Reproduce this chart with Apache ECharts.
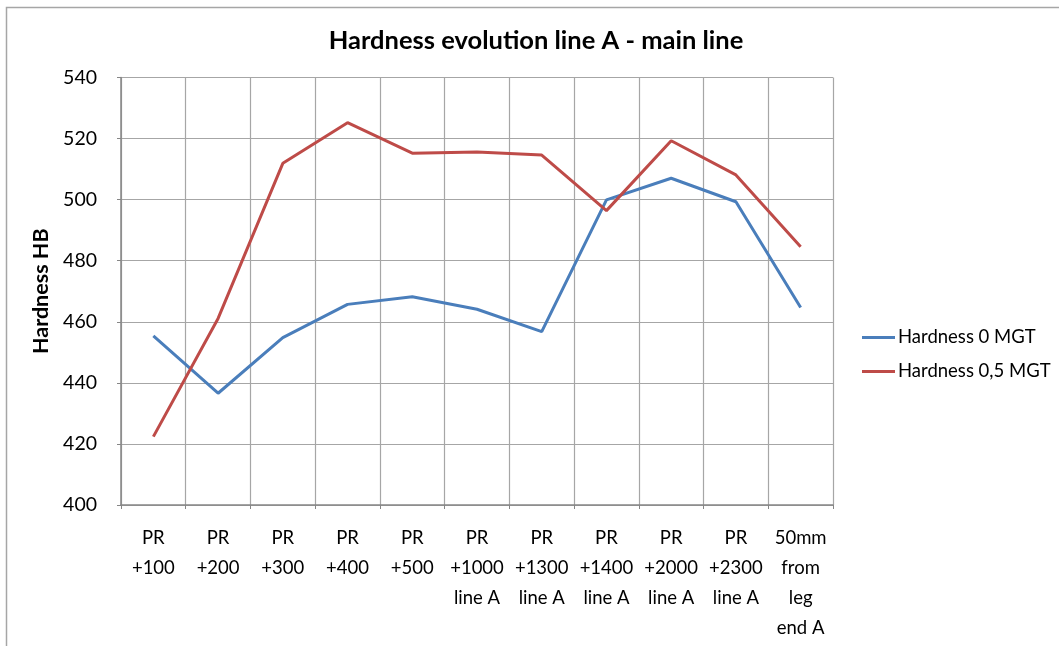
<!DOCTYPE html>
<html>
<head>
<meta charset="utf-8">
<script src="https://cdn.jsdelivr.net/npm/echarts@6/dist/echarts.min.js"></script>
<style>
html,body{margin:0;padding:0;background:#fff;}
#c{width:1059px;height:646px;}
</style>
</head>
<body>
<div id="c"></div>
<script>
const categories = [
  "PR\n+100", "PR\n+200", "PR\n+300", "PR\n+400", "PR\n+500",
  "PR\n+1000\nline A", "PR\n+1300\nline A", "PR\n+1400\nline A",
  "PR\n+2000\nline A", "PR\n+2300\nline A", "50mm\nfrom\nleg\nend A"
];
const hardness0 = [455.4, 436.6, 454.8, 465.7, 468.2, 464.1, 456.8, 499.9, 507.0, 499.3, 464.7];
const hardness05 = [422.4, 461.1, 511.9, 525.2, 515.2, 515.6, 514.6, 496.4, 519.3, 508.1, 484.6];
const seriesNames = ["Hardness 0 MGT", "Hardness 0,5 MGT"];
const yTicks = { min: 400, max: 540, interval: 20 };

const FONT = "Lato, 'Open Sans', sans-serif";
const chart = echarts.init(document.getElementById('c'), null, { renderer: 'canvas' });
chart.setOption({
  backgroundColor: '#fff',
  animation: false,
  textStyle: { fontFamily: FONT },
  title: {
    text: 'Hardness evolution line A - main line',
    left: 531, top: 23, textAlign: 'center',
    textStyle: { fontFamily: FONT, fontSize: 25.5, fontWeight: 'bold', color: '#000' }
  },
  graphic: [{
    type: 'rect', shape: { x: 6.5, y: 7.5, width: 1100, height: 700 },
    style: { fill: null, stroke: '#a6a6a6', lineWidth: 1.5 }, silent: true
  }],
  legend: {
    orient: 'vertical', left: 857, top: 323, itemWidth: 33, itemHeight: 3, itemGap: 15,
    icon: 'rect',
    textStyle: { fontFamily: FONT, fontSize: 18.5, color: '#000', padding: [0, 0, 0, -2] },
    data: seriesNames
  },
  grid: { left: 121, right: 226, top: 77.5, bottom: 141, containLabel: false },
  xAxis: {
    type: 'category', data: categories, boundaryGap: true,
    axisLine: { lineStyle: { color: '#868686', width: 1.5 } },
    axisTick: { show: true, length: 4, lineStyle: { color: '#868686' } },
    splitLine: { show: true, lineStyle: { color: '#a6a6a6', width: 1.2 } },
    axisLabel: { interval: 0, color: '#000', fontSize: 18.5, fontFamily: FONT, lineHeight: 30, margin: 18 }
  },
  yAxis: {
    type: 'value', min: yTicks.min, max: yTicks.max, interval: yTicks.interval,
    name: 'Hardness HB', nameLocation: 'middle', nameGap: 68, nameRotate: 90,
    nameTextStyle: { fontFamily: FONT, fontSize: 21.5, fontWeight: 'bold', color: '#000' },
    axisLine: { show: true, lineStyle: { color: '#868686', width: 1.5 } },
    axisTick: { show: true, length: 4, lineStyle: { color: '#868686' } },
    splitLine: { show: true, lineStyle: { color: '#a6a6a6', width: 1.2 } },
    axisLabel: { color: '#000', fontSize: 19.5, fontFamily: FONT, margin: 24 }
  },
  series: [
    { name: seriesNames[0], type: 'line', data: hardness0, symbol: 'none', showSymbol: false,
      lineStyle: { color: '#4a7ebb', width: 3 }, itemStyle: { color: '#4a7ebb' } },
    { name: seriesNames[1], type: 'line', data: hardness05, symbol: 'none', showSymbol: false,
      lineStyle: { color: '#be4b48', width: 3 }, itemStyle: { color: '#be4b48' } }
  ]
});
</script>
</body>
</html>
